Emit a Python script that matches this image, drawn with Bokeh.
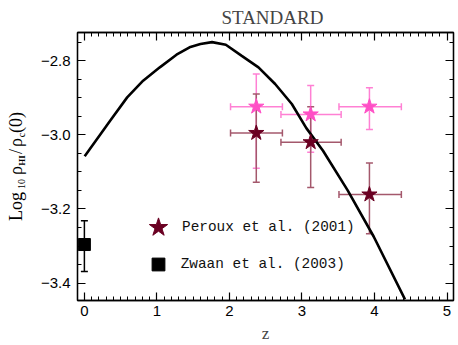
import math
from bokeh.plotting import figure
from bokeh.layouts import row
from bokeh.models import (ColumnDataSource, Whisker, TeeHead, LinearAxis, FixedTicker,
                          Legend, LegendItem, Range1d, CustomLabelingPolicy)
from bokeh.core.properties import value
from bokeh.embed import file_html
from bokeh.resources import INLINE

# ---------------- data ----------------
curve_z = [0.004, 0.36, 0.59, 0.81, 1.04, 1.27, 1.45, 1.60, 1.76, 1.95, 2.17,
           2.40, 2.63, 2.86, 3.06, 3.29, 3.63, 3.99, 4.42]
curve_logrho = [-3.058, -2.961, -2.899, -2.854, -2.818, -2.784, -2.764, -2.755,
                -2.750, -2.757, -2.787, -2.818, -2.863, -2.917, -2.982, -3.043,
                -3.150, -3.275, -3.444]

peroux_z = [2.37, 3.12, 3.93]
peroux_z_lo = [2.015, 2.71, 3.51]
peroux_z_hi = [2.73, 3.54, 4.37]

peroux_dla = [-2.995, -3.020, -3.161]
peroux_dla_hi = [-2.890, -2.924, -3.076]
peroux_dla_lo = [-3.128, -3.142, -3.267]

peroux_all = [-2.924, -2.945, -2.924]
peroux_all_hi = [-2.836, -2.867, -2.873]
peroux_all_lo = [-3.090, -3.047, -2.986]

zwaan_z = [0.0]
zwaan_logrho = [-3.296]
zwaan_hi = [-3.232]
zwaan_lo = [-3.369]

x_ticks = [0, 1, 2, 3, 4, 5]
y_ticks = [-3.4, -3.2, -3.0, -2.8]
y_tick_labels = ["\u22123.4", "\u22123.2", "\u22123.0", "\u22122.8"]

# ---------------- layout ----------------
TOTAL_W, H = 458, 345
LW = 34                      # narrow strip holding the rotated y label
W = TOTAL_W - LW
BL, BR, BT, BB = 77 - LW, 1, 32, 45
X0, X1 = -0.095, 5.089
Y0, Y1 = -3.447, -2.724

p = figure(width=W, height=H, x_range=Range1d(X0, X1), y_range=Range1d(Y0, Y1),
           output_backend="svg", toolbar_location=None,
           min_border_left=BL, min_border_right=BR, min_border_top=BT,
           min_border_bottom=BB, x_axis_label="z", title="STANDARD")
p.grid.visible = False
p.outline_line_color = "black"
p.outline_line_width = 1.3
p.background_fill_color = "white"
p.border_fill_color = "white"

p.title.text_font = "Liberation Serif"
p.title.text_font_size = "19px"
p.title.text_font_style = "normal"
p.title.align = "left"
p.title.offset = 144
p.title.standoff = 2

x_minor = [round(-0.1 + 0.1 * i, 2) for i in range(53)]
y_minor = [round(-3.45 + 0.05 * i, 2) for i in range(15)]

NO_LABELS = CustomLabelingPolicy(code="for (const i of indices) { indices.unset(i) } return indices")


def style_axis(ax, ticks, minor, labels=True):
    ax.ticker = FixedTicker(ticks=ticks, minor_ticks=minor)
    ax.major_tick_in = 8
    ax.major_tick_out = 0
    ax.minor_tick_in = 4
    ax.minor_tick_out = 0
    ax.axis_line_color = "black"
    ax.axis_line_width = 1.3
    ax.major_tick_line_color = "black"
    ax.major_tick_line_width = 1.2
    ax.minor_tick_line_color = "black"
    ax.minor_tick_line_width = 1
    ax.major_label_text_font = "Liberation Sans"
    ax.major_label_text_font_size = "15px"
    ax.major_label_text_color = "black"
    if not labels:
        ax.major_label_policy = NO_LABELS
        ax.major_label_text_font_size = "1px"
        ax.major_label_standoff = 0


style_axis(p.xaxis[0], x_ticks, x_minor)
p.xaxis[0].major_label_standoff = 5
p.xaxis[0].axis_label_text_font = "Liberation Serif"
p.xaxis[0].axis_label_text_font_size = "17px"
p.xaxis[0].axis_label_text_font_style = "normal"
p.xaxis[0].axis_label_standoff = 5

style_axis(p.yaxis[0], y_ticks, y_minor)
p.yaxis[0].major_label_standoff = 7
p.yaxis[0].major_label_overrides = {t: s for t, s in zip(y_ticks, y_tick_labels)}

ax_top = LinearAxis()
style_axis(ax_top, x_ticks, x_minor, labels=False)
p.add_layout(ax_top, "above")
ax_right = LinearAxis()
style_axis(ax_right, y_ticks, y_minor, labels=False)
p.add_layout(ax_right, "right")

# ---------------- model curve ----------------
p.line(curve_z, curve_logrho, line_color="black", line_width=2.6)

# ---------------- error bars ----------------
PINK, PINK_ERR = "#ff4fc6", "#ff80d4"
DARK, DARK_ERR = "#6a0022", "#a4586c"

src_all = ColumnDataSource(dict(z=peroux_z, zlo=peroux_z_lo, zhi=peroux_z_hi,
                                y=peroux_all, ylo=peroux_all_lo, yhi=peroux_all_hi))
src_dla = ColumnDataSource(dict(z=peroux_z, zlo=peroux_z_lo, zhi=peroux_z_hi,
                                y=peroux_dla, ylo=peroux_dla_lo, yhi=peroux_dla_hi))
src_zw = ColumnDataSource(dict(z=zwaan_z, y=zwaan_logrho, ylo=zwaan_lo, yhi=zwaan_hi))


def add_err(src, color, xerr=True):
    kw = dict(line_color=color, line_width=1.5)
    p.add_layout(Whisker(source=src, base="z", lower="ylo", upper="yhi", dimension="height",
                         upper_head=TeeHead(size=7, **kw), lower_head=TeeHead(size=7, **kw), **kw))
    if xerr:
        p.add_layout(Whisker(source=src, base="y", lower="zlo", upper="zhi", dimension="width",
                             upper_head=TeeHead(size=7, **kw), lower_head=TeeHead(size=7, **kw), **kw))


add_err(src_all, PINK_ERR)
add_err(src_dla, DARK_ERR)
add_err(src_zw, "black", xerr=False)

r_all = p.scatter("z", "y", source=src_all, marker="star", size=16,
                  fill_color=PINK, line_color=PINK)
r_dla = p.scatter("z", "y", source=src_dla, marker="star", size=16,
                  fill_color=DARK, line_color=DARK)
r_zw = p.scatter("z", "y", source=src_zw, marker="square", size=12,
                 fill_color="#000000", line_color="#000000")

# ---------------- legends ----------------
FB = H - BB  # frame bottom in figure coords
leg_kw = dict(padding=0, margin=0, spacing=0, border_line_color=None,
              background_fill_alpha=0, label_text_font="Liberation Mono",
              label_text_font_size="14.4px", label_text_color="#111111")
leg1 = Legend(items=[LegendItem(label="Peroux et al. (2001)", renderers=[r_dla])],
              location=(134 - 77, FB - 251), glyph_width=48, glyph_height=48,
              label_standoff=0, **leg_kw)
leg2 = Legend(items=[LegendItem(label="Zwaan et al. (2003)", renderers=[r_zw])],
              location=(141.7 - 77, FB - 280), glyph_width=32, glyph_height=32,
              label_standoff=7, **leg_kw)
p.add_layout(leg1)
p.add_layout(leg2)

# ---------------- y axis label (rotated pieces, in its own strip) ----------------
# the strip's frame is kept at the same height as the main frame (BT..H-BB);
# its y range is set so that one data unit is one pixel measured from the page top.
q = figure(width=LW, height=H, x_range=Range1d(0, LW), y_range=Range1d(BB, H - BT),
           output_backend="svg", toolbar_location=None,
           min_border_left=0, min_border_right=0, min_border_top=BT, min_border_bottom=BB,
           x_axis_location=None, y_axis_location=None)
q.grid.visible = False
q.outline_line_color = None
q.background_fill_color = "white"
q.border_fill_color = "white"

pieces = [  # text, centre (px from top), font size, centre x (px)
    ("Log", 206, 18, 15),
    ("10", 183.5, 10, 21),
    ("\u03c1", 170, 18, 15),
    ("HI", 160, 9, 21),
    ("/", 151, 18, 15),
    ("\u03c1", 142, 18, 15),
    ("c", 134.5, 10, 21),
    ("(0)", 122, 18, 15),
]
for txt, iy, fs, ix in pieces:
    q.text(x=[ix], y=[H - iy], text=[txt], angle=math.pi / 2,
           text_font=value("Liberation Serif"), text_font_size=value(f"{fs}px"),
           text_font_style="bold" if txt == "HI" else "normal",
           text_align="center", text_baseline="middle", text_color="black")

layout = row(q, p, spacing=0)
open("out.html", "w").write(file_html(layout, INLINE))
